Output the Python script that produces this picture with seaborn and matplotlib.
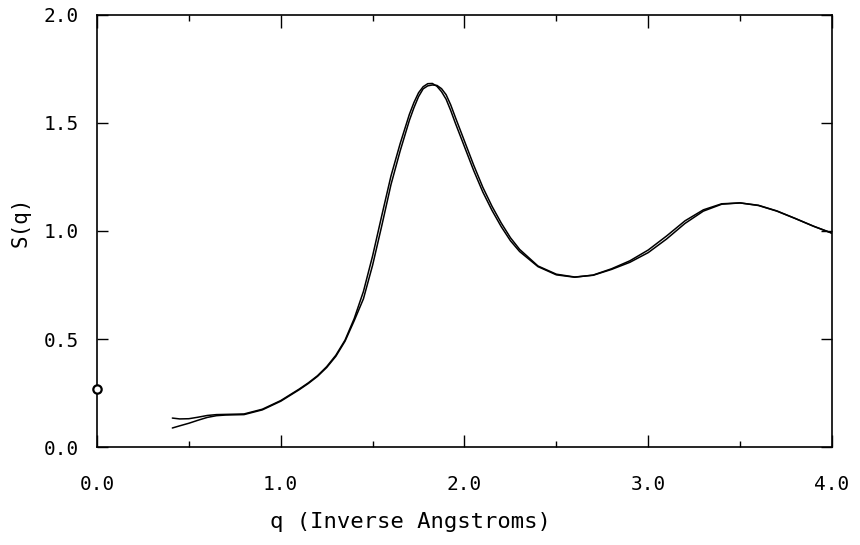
import matplotlib
matplotlib.use("Agg")
import matplotlib.pyplot as plt
import pandas as pd
import seaborn as sns

## Data
q_vals = [0.41, 0.45, 0.50, 0.55, 0.60, 0.65, 0.70, 0.80, 0.90, 1.00,
          1.10, 1.15, 1.20, 1.25, 1.30, 1.35, 1.40, 1.45, 1.50, 1.55,
          1.60, 1.65, 1.70, 1.725, 1.75, 1.775, 1.80, 1.825, 1.85, 1.875,
          1.90, 1.925, 1.95, 2.00, 2.05, 2.10, 2.15, 2.20, 2.25, 2.30,
          2.40, 2.50, 2.60, 2.70, 2.80, 2.90, 3.00, 3.10, 3.20, 3.30,
          3.40, 3.50, 3.60, 3.70, 3.80, 3.90, 4.00]

S_curve_a = [0.134, 0.130, 0.131, 0.138, 0.146, 0.150, 0.151, 0.153, 0.175, 0.215,
             0.268, 0.297, 0.330, 0.372, 0.425, 0.495, 0.595, 0.720, 0.885, 1.072,
             1.255, 1.405, 1.540, 1.595, 1.640, 1.668, 1.682, 1.683, 1.670, 1.645,
             1.610, 1.558, 1.500, 1.390, 1.280, 1.180, 1.095, 1.020, 0.955, 0.905,
             0.835, 0.797, 0.786, 0.796, 0.825, 0.862, 0.912, 0.977, 1.047, 1.098,
             1.126, 1.130, 1.118, 1.092, 1.058, 1.022, 0.990]

S_curve_b = [0.088, 0.098, 0.110, 0.124, 0.137, 0.145, 0.148, 0.150, 0.172, 0.212,
             0.265, 0.294, 0.327, 0.368, 0.420, 0.490, 0.585, 0.686, 0.842, 1.025,
             1.215, 1.371, 1.512, 1.571, 1.622, 1.658, 1.672, 1.676, 1.674, 1.659,
             1.631, 1.584, 1.527, 1.416, 1.305, 1.202, 1.114, 1.037, 0.969, 0.915,
             0.838, 0.800, 0.787, 0.795, 0.822, 0.855, 0.900, 0.963, 1.035, 1.092,
             1.124, 1.130, 1.119, 1.093, 1.058, 1.022, 0.990]

q_zero = [0.0]
S_zero = [0.268]

x_ticks = [0.0, 1.0, 2.0, 3.0, 4.0]
x_minor = [0.5, 1.5, 2.5, 3.5]
y_ticks = [0.0, 0.5, 1.0, 1.5, 2.0]

df = pd.DataFrame({'q': q_vals + q_vals,
                   'S': S_curve_a + S_curve_b,
                   'run': ['a'] * len(q_vals) + ['b'] * len(q_vals)})

sns.set_theme(style="ticks")
plt.rcParams['font.family'] = ['DejaVu Sans Mono', 'DejaVu Sans']

fig, ax = plt.subplots(figsize=(8.6, 5.45), dpi=100)
fig.subplots_adjust(left=0.1128, right=0.9674, bottom=0.1798, top=0.9725)

sns.lineplot(data=df, x='q', y='S', units='run', estimator=None, color='black',
             linewidth=1.1, ax=ax, legend=False)
ax.plot(q_zero, S_zero, marker='o', markersize=6, mfc='white', mec='black',
        mew=1.6, linestyle='none', clip_on=False, zorder=5)

ax.set_xlim(0, 4)
ax.set_ylim(0, 2)
ax.set_xticks(x_ticks)
ax.set_xticks(x_minor, minor=True)
ax.set_xticklabels(['%.1f' % v for v in x_ticks])
ax.set_yticks(y_ticks)
ax.set_yticklabels(['%.1f' % v for v in y_ticks])

ax.tick_params(which='both', direction='in', top=True, right=True, colors='black',
               labelsize=14)
ax.tick_params(axis='x', which='major', length=9, width=1, pad=20)
ax.tick_params(axis='x', which='minor', length=4.5, width=1)
ax.tick_params(axis='y', which='major', length=8, width=1, pad=13)

for sp in ax.spines.values():
    sp.set_color('black')
    sp.set_linewidth(1.2)

ax.set_xlabel('q (Inverse Angstroms)', fontsize=16, color='black')
ax.set_ylabel('S(q)', fontsize=15, color='black')
ax.xaxis.set_label_coords(0.426, -0.15)
ax.yaxis.set_label_coords(-0.09, 0.521)

fig.savefig('out.png', dpi=100, facecolor='white')
